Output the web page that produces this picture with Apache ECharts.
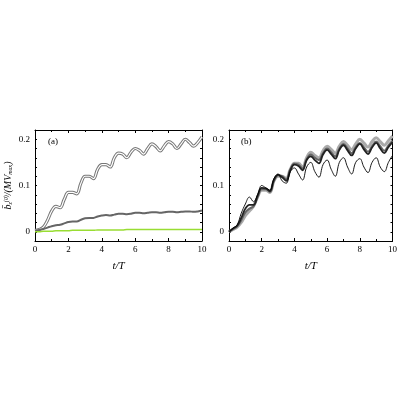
<!DOCTYPE html><html><head><meta charset="utf-8"><script src="https://cdn.jsdelivr.net/npm/echarts@6/dist/echarts.min.js"></script></head><body style="margin:0"><div id="c" style="width:400px;height:400px"></div><script>
const t=[];for(let i=0;i<=40;i++)t.push(i*0.25);
const a1=[.003,.005,.01,.025,.045,.055,.052,.07,.085,.085,.082,.105,.12,.12,.115,.135,.145,.145,.14,.16,.17,.168,.16,.172,.18,.176,.168,.18,.19,.184,.175,.186,.195,.19,.18,.19,.2,.193,.185,.193,.205];
const a2=[.002,.004,.006,.009,.012,.014,.015,.018,.021,.022,.022,.026,.029,.03,.03,.033,.035,.036,.035,.037,.039,.039,.038,.039,.041,.041,.04,.041,.042,.042,.041,.042,.043,.043,.042,.043,.044,.044,.043,.044,.046];
const a3=[0,0,.001,.001,.001,.002,.002,.002,.002,.003,.003,.003,.003,.003,.003,.004,.004,.004,.004,.004,.004,.004,.005,.005,.005,.005,.005,.005,.005,.005,.005,.005,.005,.005,.005,.005,.005,.005,.005,.005,.005];
const b1=[0,.005,.01,.02,.035,.045,.055,.075,.09,.09,.085,.11,.12,.12,.115,.135,.148,.148,.14,.16,.172,.165,.16,.175,.185,.178,.17,.185,.195,.187,.178,.19,.2,.192,.183,.195,.203,.195,.187,.197,.207];
const b2=[0,.006,.012,.025,.042,.05,.055,.075,.092,.092,.086,.11,.122,.12,.113,.135,.147,.145,.137,.157,.167,.16,.155,.17,.18,.172,.163,.18,.19,.18,.17,.183,.192,.183,.173,.185,.195,.185,.175,.187,.197];
const b3=[0,.007,.013,.03,.05,.058,.058,.078,.095,.094,.088,.112,.123,.118,.11,.133,.145,.142,.133,.155,.163,.155,.148,.167,.177,.168,.158,.177,.187,.176,.165,.18,.19,.178,.168,.182,.192,.18,.17,.183,.193];
const b4=[0,.008,.015,.04,.06,.075,.065,.08,.1,.095,.09,.115,.125,.11,.105,.13,.138,.125,.112,.14,.15,.13,.118,.145,.155,.135,.12,.15,.16,.14,.125,.15,.158,.14,.128,.15,.16,.14,.13,.15,.165];
const xt=['0','2','4','6','8','10'];const yt=['0','0.1','0.2'];
const z=d=>t.map((x,i)=>[x,d[i]]);
const F='Liberation Serif';
const AL={onZero:false,lineStyle:{color:'#000'}};
function ax(g){return [
{type:'value',gridIndex:g,min:0,max:10,interval:2,name:'t/T',nameLocation:'middle',nameGap:20,nameTextStyle:{fontFamily:F,fontStyle:'italic',fontSize:11,color:'#000'},axisLine:AL,axisTick:{inside:true,length:3,lineStyle:{color:'#000'}},minorTick:{show:true,splitNumber:2,length:2},axisLabel:{fontFamily:F,fontSize:9,color:'#000',margin:4,formatter:v=>xt.includes(String(v))?String(v):''},splitLine:{show:false}},
{type:'value',gridIndex:g,position:'top',min:0,max:10,interval:2,axisLine:AL,axisTick:{inside:true,length:3,lineStyle:{color:'#000'}},minorTick:{show:true,splitNumber:2,length:2},axisLabel:{show:false},splitLine:{show:false}}];}
function ay(g){return [
{type:'value',gridIndex:g,min:-0.02,max:0.22,interval:0.02,name:g==0?'{b|b̄}{s|z}{u|(0)}{b|/(MV}{s|max}{b|)}':'',nameLocation:'middle',nameGap:22,nameRotate:90,nameTextStyle:{fontFamily:F,fontStyle:'italic',fontSize:10,color:'#000',rich:{b:{fontFamily:F,fontStyle:'italic',fontSize:10},s:{fontFamily:F,fontSize:6,verticalAlign:'bottom',padding:[4,0,0,0]},u:{fontFamily:F,fontSize:6,verticalAlign:'top',padding:[0,0,4,0]}}},axisLine:AL,axisTick:{inside:true,length:2,lineStyle:{color:'#000'}},axisLabel:{fontFamily:F,fontSize:9,color:'#000',margin:5,formatter:v=>{const r=Math.round(v*10)/10;return Math.abs(v-r)<1e-6&&v>-0.01?String(r):''}},splitLine:{show:false}},
{type:'value',gridIndex:g,position:'right',min:-0.02,max:0.22,interval:0.02,axisLine:AL,axisTick:{inside:true,length:2,lineStyle:{color:'#000'}},axisLabel:{show:false},splitLine:{show:false}}];}
const L=(d,xi,yi,c,w)=>({type:'line',xAxisIndex:xi,yAxisIndex:yi,data:z(d),showSymbol:false,smooth:0.4,lineStyle:{color:c,width:w},silent:true});
echarts.init(document.getElementById('c')).setOption({animation:false,
grid:[{left:35,top:130,width:167,height:111},{left:229,top:130,width:167,height:111}],
xAxis:[...ax(0),...ax(1)],yAxis:[...ay(0),...ay(1)],
graphic:[{type:'text',left:48,top:137,style:{text:'(a)',font:'9px "Liberation Serif"',fill:'#000'}},{type:'text',left:241,top:137,style:{text:'(b)',font:'9px "Liberation Serif"',fill:'#000'}}],
series:[L(a1,0,0,'#777',3.2),L(a1,0,0,'#fff',1.2),L(a2,0,0,'#666',2),L(a3,0,0,'#9d3',1.5),
L(b1,2,2,'#aaa',3),L(b2,2,2,'#666',2),L(b3,2,2,'#222',1.8),L(b4,2,2,'#000',0.9)]});
</script></body></html>
